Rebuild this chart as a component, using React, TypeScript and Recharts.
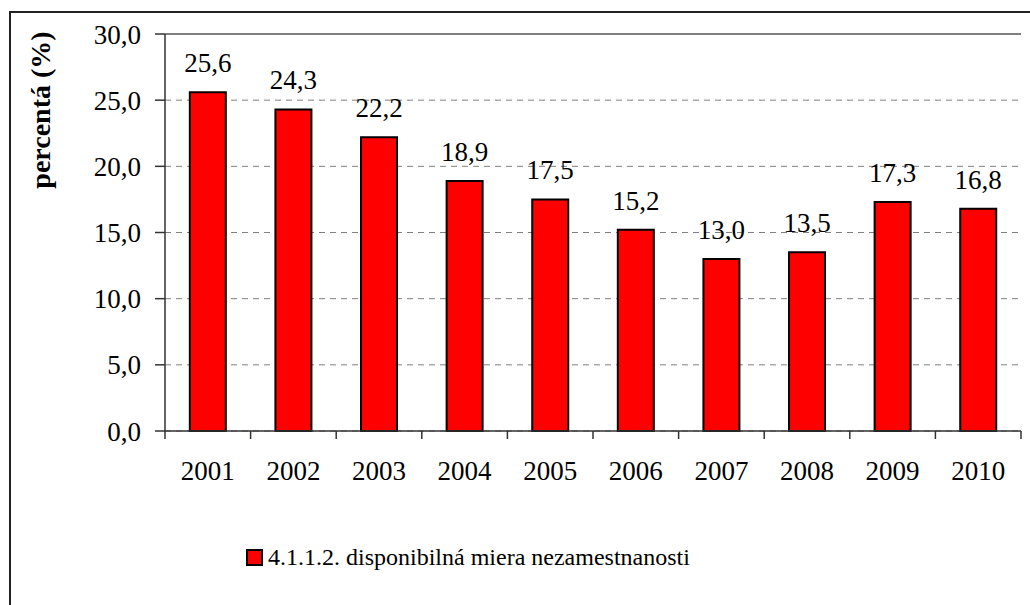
import React from "react";
import {
  BarChart,
  Bar,
  XAxis,
  YAxis,
  CartesianGrid,
  ReferenceLine,
  LabelList,
  Legend,
} from "recharts";

const YEARS = ["2001", "2002", "2003", "2004", "2005", "2006", "2007", "2008", "2009", "2010"];
const RATES = [25.6, 24.3, 22.2, 18.9, 17.5, 15.2, 13.0, 13.5, 17.3, 16.8];
const Y_TICKS = [0, 5, 10, 15, 20, 25, 30];
const SERIES_NAME = "4.1.1.2. disponibilná miera nezamestnanosti";
const Y_LABEL = "percentá (%)";

const FONT = '"Liberation Serif", "Times New Roman", serif';
const NUM_SIZE = 27;
const AXIS_COLOR = "#333333";
const GRID_COLOR = "#808080";

const data = YEARS.map((year, i) => ({ year, value: RATES[i] }));

const fmt = (v: number) => v.toFixed(1).replace(".", ",");

function YearTick(props: any) {
  const { x, y, payload, index, visibleTicksCount, width } = props;
  const half = width / (visibleTicksCount || YEARS.length) / 2;
  const axisY = y - 30;
  return (
    <g>
      <line x1={x - half} x2={x - half} y1={axisY} y2={axisY + 8} stroke={AXIS_COLOR} strokeWidth={1.5} />
      {index === visibleTicksCount - 1 && (
        <line x1={x + half} x2={x + half} y1={axisY} y2={axisY + 8} stroke={AXIS_COLOR} strokeWidth={1.5} />
      )}
      <text x={x} y={y} dy="0.71em" textAnchor="middle" fontFamily={FONT} fontSize={NUM_SIZE} fill="#000">
        {payload.value}
      </text>
    </g>
  );
}

function YLabel(props: any) {
  const { viewBox } = props;
  const cx = 40;
  const cy = viewBox.y + 76;
  return (
    <text
      x={cx}
      y={cy}
      transform={`rotate(-90, ${cx}, ${cy})`}
      textAnchor="middle"
      dominantBaseline="central"
      fontFamily={FONT}
      fontWeight="bold"
      fontSize={28}
      fill="#000"
    >
      {Y_LABEL}
    </text>
  );
}

function LegendBox() {
  return (
    <div style={{ display: "flex", alignItems: "center", fontFamily: FONT, fontSize: 24, color: "#000", whiteSpace: "nowrap" }}>
      <span
        style={{
          display: "inline-block",
          width: 13,
          height: 13,
          background: "#FF0000",
          border: "2px solid #000",
          marginRight: 5,
        }}
      />
      <span>{SERIES_NAME}</span>
    </div>
  );
}

export default function App() {
  return (
    <div style={{ position: "absolute", left: 0, top: 0, width: 1030, height: 605, background: "#fff", overflow: "hidden" }}>
      <div
        style={{
          position: "absolute",
          left: 9,
          top: 11,
          width: 1040,
          height: 620,
          border: "2px solid #222",
          boxSizing: "border-box",
        }}
      />
      <BarChart
        width={1030}
        height={605}
        data={data}
        margin={{ top: 34, right: 9, left: 0, bottom: 134 }}
        barCategoryGap="29%"
      >
        <CartesianGrid vertical={false} stroke={GRID_COLOR} strokeDasharray="6 5" />
        <ReferenceLine y={30} stroke={GRID_COLOR} strokeWidth={2} />
        <XAxis
          dataKey="year"
          height={40}
          tickLine={false}
          tickSize={8}
          tickMargin={22}
          axisLine={{ stroke: AXIS_COLOR, strokeWidth: 1.5 }}
          tick={<YearTick />}
          interval={0}
        />
        <YAxis
          width={165}
          domain={[0, 30]}
          ticks={Y_TICKS}
          tickFormatter={fmt}
          tickSize={10}
          tickMargin={14}
          axisLine={{ stroke: AXIS_COLOR, strokeWidth: 1.5 }}
          tickLine={{ stroke: AXIS_COLOR, strokeWidth: 1.5 }}
          tick={{ fontFamily: FONT, fontSize: NUM_SIZE, fill: "#000" }}
          label={<YLabel />}
        />
        <YAxis
          yAxisId="frame"
          orientation="right"
          width={0}
          domain={[0, 30]}
          tick={false}
          tickLine={false}
          axisLine={{ stroke: GRID_COLOR, strokeWidth: 2 }}
        />
        <Legend
          layout="horizontal"
          verticalAlign="middle"
          content={<LegendBox />}
          wrapperStyle={{ left: 246, top: 544, bottom: "auto", width: 600 }}
        />
        <Bar dataKey="value" name={SERIES_NAME} fill="#FF0000" stroke="#000" strokeWidth={2} isAnimationActive={false}>
          <LabelList
            dataKey="value"
            position="top"
            offset={20}
            formatter={(v: any) => fmt(Number(v))}
            style={{ fontFamily: FONT, fontSize: NUM_SIZE, fill: "#000" }}
          />
        </Bar>
      </BarChart>
    </div>
  );
}
